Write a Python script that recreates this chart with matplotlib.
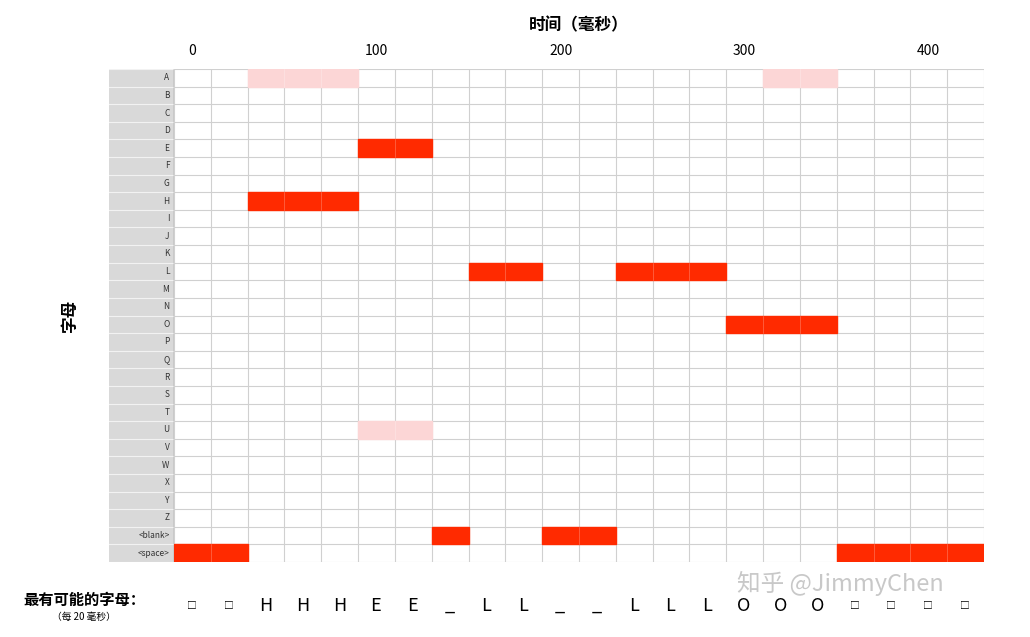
import matplotlib.pyplot as plt
from matplotlib.patches import Rectangle

plt.rcParams['font.family'] = ['Noto Sans CJK SC', 'DejaVu Sans']

rows = list('ABCDEFGHIJKLMNOPQRSTUVWXYZ') + ['<blank>', '<space>']
n_cols = 22  # 20 ms steps
# (row label, first column, number of columns)
strong = [('<space>', 0, 2), ('H', 2, 3), ('E', 5, 2), ('<blank>', 7, 1),
          ('L', 8, 2), ('<blank>', 10, 2), ('L', 12, 3), ('O', 15, 3),
          ('<space>', 18, 4)]
weak = [('A', 2, 3), ('U', 5, 2), ('A', 16, 2)]
best = ['□', '□', 'H', 'H', 'H', 'E', 'E', '_', 'L', 'L', '_', '_',
        'L', 'L', 'L', 'O', 'O', 'O', '□', '□', '□', '□']
xticks = [0, 100, 200, 300, 400]

W, H = 1030, 637
fig = plt.figure(figsize=(W / 100, H / 100), dpi=100)
def box(l, t, r, b):
    return [l / W, 1 - b / H, (r - l) / W, (b - t) / H]

ax = fig.add_axes(box(174, 69, 984, 562))
ax.set_xlim(-10, 430)
ax.set_ylim(len(rows), 0)
for c in range(n_cols + 1):
    ax.axvline(-10 + 20 * c, color='#d0d0d0', lw=0.8)
for r in range(len(rows) + 1):
    ax.axhline(r, color='#d0d0d0', lw=0.8)

def draw(cells, color):
    for lab, c0, n in cells:
        y = rows.index(lab)
        ax.add_patch(Rectangle((-10 + 20 * c0, y), 20 * n, 1, color=color, zorder=2))
        for k in range(1, n):
            ax.plot([-10 + 20 * (c0 + k)] * 2, [y, y + 1], color='#ffffff', lw=0.4, alpha=0.4, zorder=3)
draw(strong, '#ff2a00')
draw(weak, '#fcd6d6')

ax.set_xticks(xticks)
ax.xaxis.tick_top()
ax.tick_params(axis='x', length=0, labelsize=10, pad=8)
ax.set_yticks([])
for s in ax.spines.values():
    s.set_visible(False)
ax.set_xlabel('时间（毫秒）', fontsize=12, fontweight='bold', labelpad=10)
ax.xaxis.set_label_position('top')

lab = fig.add_axes(box(109, 69, 174, 562))
lab.set_xlim(0, 1)
lab.set_ylim(len(rows), 0)
lab.set_facecolor('#d9d9d9')
for r in range(len(rows) + 1):
    lab.axhline(r, color='#f2f2f2', lw=0.8)
for i, name in enumerate(rows):
    lab.text(0.93, i + 0.5, name, ha='right', va='center', fontsize=6, color='#333333')
lab.set_xticks([])
lab.set_yticks([])
for s in lab.spines.values():
    s.set_visible(False)
lab.axvline(1, color='#888888', lw=1)

fig.text(70 / W, 1 - 315 / H, '字母', rotation=90, ha='center', va='center',
         fontsize=12, fontweight='bold')
fig.text(84 / W, 1 - 600 / H, '最有可能的字母：', ha='center', va='center',
         fontsize=11, fontweight='bold')
fig.text(84 / W, 1 - 617 / H, '（每 20 毫秒）', ha='center', va='center', fontsize=7)
fig.text(840 / W, 1 - 583 / H, '知乎 @JimmyChen', ha='center', va='center',
         fontsize=17, color='#c8c8c8')

for c, ch in enumerate(best):
    x = 192 + 36.8 * c
    fig.text(x / W, 1 - 606 / H, ch, ha='center', va='center',
             fontsize=7 if ch == '□' else 13)

fig.savefig('out.png', dpi=100)
